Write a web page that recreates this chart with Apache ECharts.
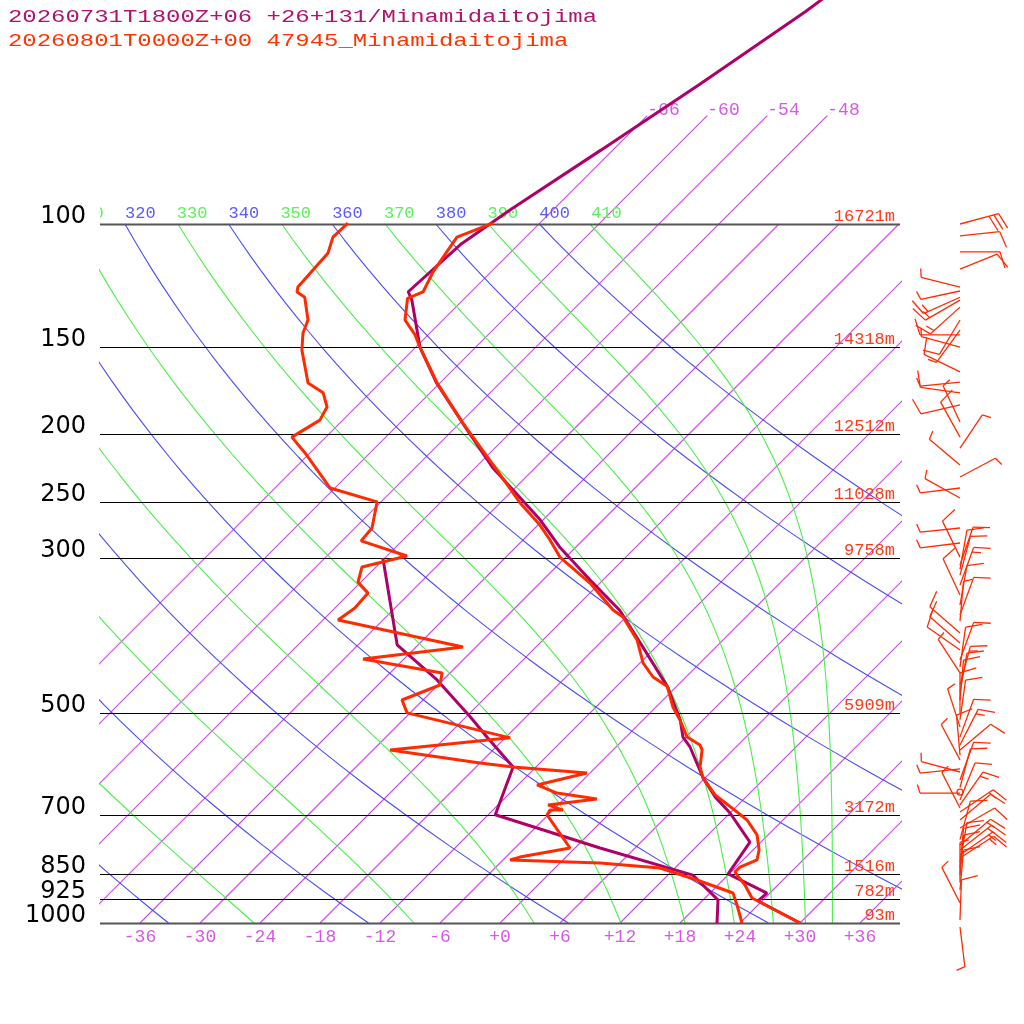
<!DOCTYPE html>
<html>
<head>
<meta charset="utf-8">
<script src="https://cdn.jsdelivr.net/npm/echarts@6/dist/echarts.min.js"></script>
<style>
html, body { margin: 0; padding: 0; background: #fff; }
#plot { width: 1024px; height: 1024px; }
</style>
</head>
<body>
<div id="plot"></div>
<script>
// --- titles
var titleFcst = '20260731T1800Z+06 +26+131/Minamidaitojima';
var titleObs = '20260801T0000Z+00 47945_Minamidaitojima';

// --- diagram reference values
var levels = [100, 150, 200, 250, 300, 500, 700, 850, 925, 1000];
var heights = ['16721m', '14318m', '12512m', '11028m', '9758m', '5909m', '3172m', '1516m', '782m', '93m'];
var tempTicks = [-36, -30, -24, -18, -12, -6, 0, 6, 12, 18, 24, 30, 36];
var isotherms = [-66, -60, -54, -48, -42, -36, -30, -24, -18, -12, -6, 0, 6, 12, 18, 24, 30, 36];
var isothermTop = [-66, -60, -54, -48];
var dryAdiabats = [240, 260, 280, 300, 320, 340, 360, 380, 400];
var moistAdiabats = [250, 270, 290, 310, 330, 350, 370, 390, 410];
var adiabatLabels = [310, 320, 330, 340, 350, 360, 370, 380, 390, 400, 410];

// --- forecast sounding (purple)
var fcstP = [1000, 930, 906, 850.5, 766, 696, 660, 620, 560, 542, 512, 459, 403, 357, 323, 290, 265, 223, 197, 169, 150, 128.5, 125, 107, 95.5, 78.4, 63.1, 49.7, 47];
var fcstT = [30.0, 23.6, 23.7, 17.9, 16.9, 12.0, 8.9, 5.8, 1.4, -0.3, -2.3, -6.9, -13.3, -19.3, -25.3, -31.6, -36.3, -46.3, -52.6, -60.3, -65.6, -71.1, -72.3, -71.8, -70.3, -67.2, -63.9, -60.6, -60.0];
var fcstDP = [1000, 927, 854, 781, 700, 598, 542, 507, 449, 400, 300.6];
var fcstTd = [21.7, 19.5, 14.5, 2.5, -11.3, -14.3, -19.9, -23.6, -30.6, -38.1, -48.2];

// --- observed sounding (red)
var obsP = [1000, 921, 882.5, 845.5, 831.6, 812.5, 786, 748.2, 712.2, 677.8, 655.8, 620.1, 598, 565.4, 556.4, 541.7, 512.4, 491, 459, 444.7, 424.6, 393.6, 365, 356.6, 326.3, 299.6, 283.2, 269.6, 250.6, 224.9, 192.7, 168.8, 150, 144.1, 137.2, 127.8, 125.1, 117.1, 104.4, 99.7];
var obsT = [30.0, 22.7, 20.7, 18.4, 18.4, 19.4, 18.6, 16.9, 14.4, 11.0, 8.7, 5.8, 4.4, 2.9, 2.2, 0.1, -2.3, -4.3, -6.9, -9.3, -11.7, -14.6, -18.3, -20.0, -25.0, -30.6, -33.3, -35.8, -40.0, -45.6, -53.7, -60.3, -65.6, -67.3, -69.8, -71.7, -70.8, -71.8, -72.9, -70.7];
var obsDP = [1000, 942.5, 906, 868, 834.4, 820.5, 812.5, 804.8, 781.1, 700.5, 689.3, 689.3, 677.8, 664.9, 651.7, 634.6, 610, 598, 590.3, 565.4, 543.4, 500.5, 479.7, 456.6, 438.8, 419, 402.8, 368.5, 354.4, 337.2, 325.2, 309.5, 298.5, 284, 272.2, 249.8, 238.6, 212.6, 201.8, 190.8, 182.7, 174.4, 168.8, 151.5, 143.2, 137.2, 127.3, 125.1, 123.1, 110, 104.4, 99.7];
var obsTd = [24.2, 21.9, 20.3, 15.4, 10.5, 4.0, -5.3, -4.6, -0.5, -6.1, -6.3, -5.0, -7.0, -2.7, -7.3, -10.1, -6.3, -14.3, -18.0, -28.3, -17.5, -30.3, -32.1, -29.8, -30.8, -40.1, -31.3, -46.5, -46.0, -46.2, -48.3, -49.4, -46.0, -52.1, -52.3, -54.4, -60.5, -66.5, -69.4, -68.3, -68.9, -70.7, -73.2, -77.1, -78.7, -79.5, -82.1, -83.4, -83.8, -84.2, -85.3, -85.2];

// --- observed winds (hPa, deg from, kt)
var windP = [100, 104, 109.6, 116, 123.1, 124.7, 127.3, 128.5, 131.5, 137.2, 141.8, 144.1, 150, 162.8, 168.3, 174.4, 181.5, 192, 201.8, 209.2, 221.2, 230.1, 238.6, 246.6, 272.2, 286, 299.6, 307.5, 312, 317.9, 328.5, 339.5, 350.8, 362.5, 370, 384.7, 397.6, 406.9, 420.5, 430, 438.8, 456.6, 468, 479.7, 500.5, 512, 524.2, 541.7, 556.4, 565.4, 575, 584.3, 602, 608.1, 624.2, 640, 649.6, 652, 666.9, 677.8, 684.8, 693.9, 712.2, 731.2, 760, 773.2, 786, 799.2, 807.2, 818.1, 835, 853.9, 875, 897, 936.3, 990, 1013.3];
var windDir = [75, 84, 90, 68, 284, 258, 246, 240, 228, 211, 216, 270, 285, 296, 264, 278, 257, 335, 331, 34, 310, 62, 263, 299, 264, 263, 334, 19, 10, 15, 20, 335, 10, 20, 5, 311, 311, 305, 20, 8, 327, 15, 10, 5, 0, 8, 342, 20, 27, 50, 355, 332, 264, 285, 20, 15, 0, 270, 22, 35, 333, 56, 50, 60, 15, 50, 52, 55, 57, 10, 5, 5, 0, 5, 333, 2, 173];
var windSpd = [30, 10, 10, 10, 5, 5, 15, 15, 15, 10, 5, 10, 5, 10, 5, 10, 10, 5, 10, 5, 5, 5, 5, 5, 5, 5, 10, 10, 10, 10, 15, 10, 10, 10, 5, 10, 10, 10, 10, 10, 5, 15, 10, 10, 10, 10, 5, 10, 15, 10, 10, 5, 5, 5, 10, 10, 0, 5, 10, 15, 5, 15, 10, 10, 10, 15, 15, 15, 15, 10, 10, 10, 5, 10, 5, 10, 5];

// --- colours
var PURPLE = '#ae0068';
var RED = '#ff2a00';
var ISO = '#c64ce6';
var ISO_TXT = '#d45ae4';
var DRY = '#4a4aff';
var MOIST = '#48f048';

var SKEW = 69.9;                           // degC of shift per decade of pressure
var P_TOP = 1000 / Math.pow(10, 923 / 699);
var STAFF = 40, FULL = 17, HALF = 9, GAP = 5, TILT = 0.3;

function skewX(t, p) { return t + SKEW * Math.log10(1000 / p); }

function pairs(ps, ts) {
	var out = [];
	for (var i = 0; i < ps.length; i++) out.push([skewX(ts[i], ps[i]), ps[i]]);
	return out;
}

// saturated equivalent potential temperature (Bolton 1980)
function thetaE(tc, p) {
	var es = 6.112 * Math.exp(17.67 * tc / (tc + 243.5));
	if (es > 0.5 * p) return 1e9;
	var r = 0.622 * es / (p - es);
	var tk = tc + 273.15;
	return tk * Math.pow(1000 / p, 0.2854 * (1 - 0.28 * r)) * Math.exp((3376 / tk - 2.54) * r * (1 + 0.81 * r));
}
function moistT(te, p) {
	var lo = -150, hi = 60;
	for (var i = 0; i < 50; i++) {
		var mid = (lo + hi) / 2;
		if (thetaE(mid, p) < te) lo = mid; else hi = mid;
	}
	return (lo + hi) / 2;
}

var pGrid = [];
for (var k = 0; k <= 45; k++) pGrid.push(1000 * Math.pow(10, -k / 45));

function bgLine(data, color) {
	return {
		type: 'line', xAxisIndex: 0, yAxisIndex: 0, data: data, symbol: 'none',
		silent: true, z: 1, lineStyle: { color: color, width: 1.1 }
	};
}

var series = [];
isotherms.forEach(function (t) {
	var pEnd = isothermTop.indexOf(t) >= 0 ? 70 : 100;
	series.push(bgLine([[skewX(t, 1000), 1000], [skewX(t, pEnd), pEnd]], ISO));
});
dryAdiabats.forEach(function (th) {
	series.push(bgLine(pGrid.map(function (p) {
		return [skewX(th * Math.pow(p / 1000, 0.2857) - 273.15, p), p];
	}), DRY));
});
moistAdiabats.forEach(function (te) {
	series.push(bgLine(pGrid.map(function (p) {
		return [skewX(moistT(te, p), p), p];
	}), MOIST));
});

// isobars with pressure and height labels
series.push({
	type: 'custom', xAxisIndex: 0, yAxisIndex: 0, z: 3, silent: true,
	data: levels.map(function (p, i) { return [0, p, i]; }),
	encode: { x: 0, y: 1 },
	renderItem: function (params, api) {
		var i = api.value(2);
		var cs = params.coordSys;
		var y = Math.round(api.coord([0, api.value(1)])[1]) + 0.5;
		var edge = levels[i] === 100 || levels[i] === 1000;
		return {
			type: 'group', children: [
				{ type: 'line', shape: { x1: cs.x, y1: y, x2: cs.x + cs.width, y2: y },
				  style: { stroke: edge ? '#555' : '#000', lineWidth: edge ? 2 : 1 } },
				{ type: 'text', style: { text: String(levels[i]), x: cs.x - 14, y: y - 8,
				  textAlign: 'right', textVerticalAlign: 'middle', font: '24px "DejaVu Sans"', fill: '#000' } },
				{ type: 'text', style: { text: heights[i], x: cs.x + cs.width - 5, y: y - 8,
				  textAlign: 'right', textVerticalAlign: 'middle', font: '17px "Liberation Mono"', fill: '#ff3a1a' } }
			]
		};
	}
});

// temperature labels along the bottom
series.push({
	type: 'custom', xAxisIndex: 0, yAxisIndex: 0, z: 3, silent: true,
	data: tempTicks.map(function (t) { return [t, 1000]; }),
	encode: { x: 0, y: 1 },
	renderItem: function (params, api) {
		var t = api.value(0);
		var pt = api.coord([t, 1000]);
		return { type: 'text', style: { text: (t >= 0 ? '+' : '') + t, x: pt[0], y: pt[1] + 14,
			textAlign: 'center', textVerticalAlign: 'middle', font: '18px "Liberation Mono"', fill: ISO_TXT } };
	}
});

// isotherm labels above the 100 hPa line
series.push({
	type: 'custom', xAxisIndex: 0, yAxisIndex: 0, z: 3, silent: true,
	data: isothermTop.map(function (t) { return [skewX(t, 70), 70, t]; }),
	encode: { x: 0, y: 1 },
	renderItem: function (params, api) {
		var pt = api.coord([api.value(0), 70]);
		return { type: 'text', style: { text: String(api.value(2)), x: pt[0], y: pt[1] - 5,
			textAlign: 'left', textVerticalAlign: 'middle', font: '18px "Liberation Mono"', fill: ISO_TXT } };
	}
});

// adiabat labels at 100 hPa
series.push({
	type: 'custom', xAxisIndex: 0, yAxisIndex: 0, z: 3, silent: true, clip: true,
	data: adiabatLabels.map(function (th) {
		return [skewX(th * Math.pow(0.1, 0.2857) - 273.15, 100), 100, th];
	}),
	encode: { x: 0, y: 1 },
	renderItem: function (params, api) {
		var th = api.value(2);
		var pt = api.coord([api.value(0), 100]);
		return { type: 'text', style: { text: String(th), x: pt[0], y: pt[1] - 11,
			textAlign: 'left', textVerticalAlign: 'middle', font: '17px "Liberation Mono"',
			fill: (th / 10) % 2 === 0 ? '#5a5aff' : '#5cf05c' } };
	}
});

function profile(data, color) {
	return {
		type: 'line', xAxisIndex: 0, yAxisIndex: 0, data: data, symbol: 'none', z: 5,
		silent: true, lineStyle: { color: color, width: 3 }
	};
}
series.push(profile(pairs(fcstDP, fcstTd), PURPLE));
series.push(profile(pairs(fcstP, fcstT), PURPLE));
series.push(profile(pairs(obsDP, obsTd), RED));
series.push(profile(pairs(obsP, obsT), RED));

// wind barbs
series.push({
	type: 'custom', xAxisIndex: 1, yAxisIndex: 1, z: 6, silent: true, clip: false,
	data: windP.map(function (p, i) { return [0, p, windDir[i], windSpd[i]]; }),
	encode: { x: 0, y: 1 },
	renderItem: function (params, api) {
		var base = api.coord([0, api.value(1)]);
		var dir = api.value(2) * Math.PI / 180, spd = api.value(3);
		if (spd < 2.5) {
			return { type: 'circle', shape: { cx: base[0], cy: base[1], r: 3 },
				style: { stroke: RED, fill: 'none', lineWidth: 1.3 } };
		}
		var ux = Math.sin(dir), uy = -Math.cos(dir);
		var rx = -uy, ry = ux;
		var c = Math.cos(TILT), s = Math.sin(TILT);
		var kids = [{ type: 'line', shape: { x1: base[0], y1: base[1], x2: base[0] + ux * STAFF, y2: base[1] + uy * STAFF },
			style: { stroke: RED, lineWidth: 1.3 } }];
		var pos = STAFF;
		function feather(len) {
			var sx = base[0] + ux * pos, sy = base[1] + uy * pos;
			kids.push({ type: 'line', shape: { x1: sx, y1: sy, x2: sx + len * (rx * c + ux * s), y2: sy + len * (ry * c + uy * s) },
				style: { stroke: RED, lineWidth: 1.3 } });
			pos -= GAP;
		}
		var n10 = Math.floor(spd / 10), n5 = Math.round((spd - n10 * 10) / 5);
		for (var a = 0; a < n10; a++) feather(FULL);
		for (var b = 0; b < n5; b++) feather(HALF);
		return { type: 'group', children: kids };
	}
});

var logAxis = { type: 'log', logBase: 10, min: P_TOP, max: 1000, inverse: true, show: false };

var option = {
	animation: false,
	backgroundColor: '#fff',
	grid: [
		{ left: 100, top: 0, width: 800, height: 923 },
		{ left: 920, top: 0, width: 80, height: 923 }
	],
	xAxis: [
		{ type: 'value', min: -40, max: 40, show: false, gridIndex: 0 },
		{ type: 'value', min: -1, max: 1, show: false, gridIndex: 1 }
	],
	yAxis: [
		Object.assign({ gridIndex: 0 }, logAxis),
		Object.assign({ gridIndex: 1 }, logAxis)
	],
	graphic: [
		{ type: 'text', x: 8, y: 17, scaleX: 1.33, silent: true,
		  style: { text: titleFcst, font: '18px "Liberation Mono"', fill: '#b0126e', textVerticalAlign: 'middle' } },
		{ type: 'text', x: 8, y: 41, scaleX: 1.33, silent: true,
		  style: { text: titleObs, font: '18px "Liberation Mono"', fill: '#ff3300', textVerticalAlign: 'middle' } }
	],
	series: series
};

var myChart = echarts.init(document.getElementById('plot'));
myChart.setOption(option);
</script>
</body>
</html>
